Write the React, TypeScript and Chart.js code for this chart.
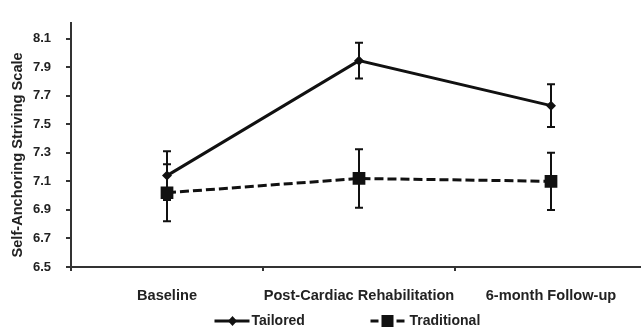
import React, { useEffect, useRef } from "react";
import { Chart, registerables } from "chart.js";

Chart.register(...registerables);

const categories = ["Baseline", "Post-Cardiac Rehabilitation", "6-month Follow-up"];
const tailoredValues = [7.14, 7.945, 7.63];
const tailoredErrors = [0.17, 0.125, 0.15];
const traditionalValues = [7.02, 7.12, 7.1];
const traditionalErrors = [0.2, 0.205, 0.2];
const yTicks = [6.5, 6.7, 6.9, 7.1, 7.3, 7.5, 7.7, 7.9, 8.1];
const yTitle = "Self-Anchoring Striving Scale";
const errorsByDataset = [tailoredErrors, traditionalErrors];

const FONT = "'Liberation Sans', Arial, sans-serif";
const VIEW_W = 641;
const CANVAS_W = 647;
const H = 329;

const errorBarPlugin = {
  id: "errorBars",
  afterDatasetsDraw(chart: any) {
    const ctx = chart.ctx;
    const yScale = chart.scales.y;
    chart.data.datasets.forEach((ds: any, di: number) => {
      const meta = chart.getDatasetMeta(di);
      const errs = errorsByDataset[di];
      ctx.save();
      ctx.strokeStyle = "#111";
      ctx.lineWidth = 2;
      ctx.setLineDash([]);
      meta.data.forEach((pt: any, i: number) => {
        const v = ds.data[i];
        const top = yScale.getPixelForValue(v + errs[i]);
        const bot = yScale.getPixelForValue(v - errs[i]);
        const x = pt.x;
        ctx.beginPath();
        ctx.moveTo(x, top);
        ctx.lineTo(x, bot);
        ctx.moveTo(x - 4, top);
        ctx.lineTo(x + 4, top);
        ctx.moveTo(x - 4, bot);
        ctx.lineTo(x + 4, bot);
        ctx.stroke();
      });
      ctx.restore();
    });
  },
};

const customPlugin = {
  id: "customDecor",
  afterDraw(chart: any) {
    const ctx = chart.ctx;
    const area = chart.chartArea;
    ctx.save();
    // y title
    ctx.translate(18, (area.top + area.bottom) / 2 + 10);
    ctx.rotate(-Math.PI / 2);
    ctx.font = `bold 14.6px ${FONT}`;
    ctx.fillStyle = "#222";
    ctx.textAlign = "center";
    ctx.textBaseline = "middle";
    ctx.fillText(yTitle, 0, 0);
    ctx.restore();

    // legend
    const cx = VIEW_W / 2;
    const ly = 321;
    const dsets = chart.data.datasets;
    ctx.save();
    ctx.font = `bold 14px ${FONT}`;
    ctx.fillStyle = "#222";
    ctx.textBaseline = "middle";
    ctx.textAlign = "left";
    // Tailored
    let x0 = cx - 106;
    ctx.strokeStyle = "#111";
    ctx.lineWidth = 3;
    ctx.beginPath();
    ctx.moveTo(x0, ly);
    ctx.lineTo(x0 + 35, ly);
    ctx.stroke();
    ctx.fillStyle = "#111";
    ctx.beginPath();
    const dx = x0 + 18;
    ctx.moveTo(dx, ly - 5);
    ctx.lineTo(dx + 4.5, ly);
    ctx.lineTo(dx, ly + 5);
    ctx.lineTo(dx - 4.5, ly);
    ctx.closePath();
    ctx.fill();
    ctx.fillStyle = "#222";
    ctx.fillText(dsets[0].label, x0 + 37, ly);
    // Traditional
    x0 = cx + 50;
    ctx.setLineDash([8, 5]);
    ctx.beginPath();
    ctx.moveTo(x0, ly);
    ctx.lineTo(x0 + 36, ly);
    ctx.stroke();
    ctx.setLineDash([]);
    ctx.fillStyle = "#111";
    ctx.fillRect(x0 + 11, ly - 6, 12, 12);
    ctx.fillStyle = "#222";
    ctx.fillText(dsets[1].label, x0 + 39, ly);
    ctx.restore();
  },
};

export default function App() {
  const ref = useRef<HTMLCanvasElement>(null);
  useEffect(() => {
    document.body.style.margin = "0";
    const chart = new Chart(ref.current!, {
      type: "line",
      data: {
        labels: categories,
        datasets: [
          {
            label: "Tailored",
            data: tailoredValues,
            borderColor: "#111",
            backgroundColor: "#111",
            borderWidth: 3,
            pointStyle: "rectRot",
            pointRadius: 5,
            pointBorderWidth: 0,
            fill: false,
            tension: 0,
          },
          {
            label: "Traditional",
            data: traditionalValues,
            borderColor: "#111",
            backgroundColor: "#111",
            borderWidth: 3,
            borderDash: [9, 4],
            pointStyle: "rect",
            pointRadius: 9,
            pointBorderWidth: 0,
            fill: false,
            tension: 0,
          },
        ],
      },
      options: {
        animation: false,
        responsive: false,
        maintainAspectRatio: false,
        layout: { autoPadding: false, padding: { left: 0, right: 0, top: 13, bottom: 0 } },
        plugins: {
          legend: { display: false },
          tooltip: { enabled: false },
          title: { display: false },
        },
        scales: {
          x: {
            type: "category",
            offset: true,
            afterFit(scale: any) {
              scale.height = 62;
              scale.paddingRight = 0;
              scale.paddingLeft = 0;
            },
            grid: {
              display: true,
              drawOnChartArea: false,
              drawTicks: true,
              tickLength: 4,
              offset: true,
              color: "#333",
              lineWidth: 2,
            },
            border: { display: true, color: "#333", width: 2 },
            ticks: {
              font: { family: FONT, size: 14.6, weight: "bold" },
              color: "#222",
              padding: 16,
              maxRotation: 0,
              autoSkip: false,
            },
          },
          y: {
            min: 6.5,
            max: 8.21,
            afterFit(scale: any) {
              scale.width = 71;
            },
            afterBuildTicks(scale: any) {
              scale.ticks = yTicks.map((v) => ({ value: v }));
            },
            grid: {
              display: true,
              drawOnChartArea: false,
              drawTicks: true,
              tickLength: 5,
              color: "#333",
              lineWidth: 2,
            },
            border: { display: true, color: "#333", width: 2 },
            ticks: {
              font: { family: FONT, size: 13, weight: "bold" },
              color: "#222",
              padding: 15,
              callback: (v: any) => Number(v).toFixed(1),
            },
          },
        },
      },
      plugins: [errorBarPlugin, customPlugin],
    });
    return () => chart.destroy();
  }, []);
  return (
    <div style={{ width: VIEW_W, height: H, overflow: "hidden" }}>
      <canvas ref={ref} width={CANVAS_W} height={H} style={{ display: "block" }} />
    </div>
  );
}
